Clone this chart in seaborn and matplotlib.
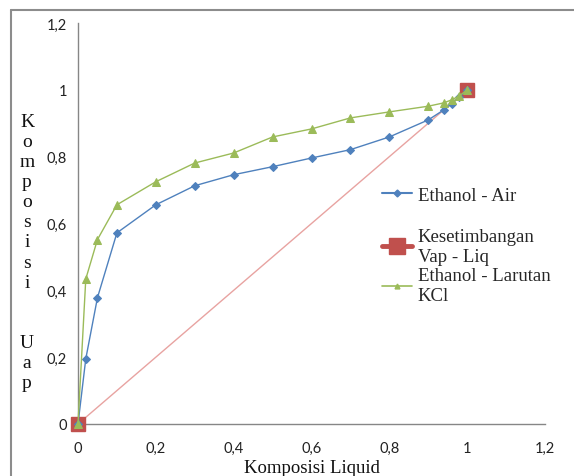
### Komposisi uap vs komposisi liquid ###
import matplotlib
matplotlib.use("Agg")
import matplotlib.pyplot as plt
import seaborn as sns
import numpy as np
import pandas as pd
from matplotlib.lines import Line2D

# data
x_air = [0, 0.02, 0.05, 0.1, 0.2, 0.3, 0.4, 0.5, 0.6, 0.7, 0.8, 0.9, 0.94, 0.96, 0.98, 1.0]
y_air = [0, 0.195, 0.378, 0.572, 0.656, 0.713, 0.746, 0.770, 0.796, 0.821, 0.859, 0.910, 0.940, 0.958, 0.979, 1.0]

x_kcl = [0, 0.02, 0.05, 0.1, 0.2, 0.3, 0.4, 0.5, 0.6, 0.7, 0.8, 0.9, 0.94, 0.96, 0.98, 1.0]
y_kcl = [0, 0.434, 0.552, 0.656, 0.725, 0.781, 0.811, 0.859, 0.883, 0.916, 0.934, 0.951, 0.961, 0.970, 0.982, 1.0]

x_eq = [0, 1]
y_eq = [0, 1]

ticks = [0, 0.2, 0.4, 0.6, 0.8, 1.0, 1.2]
tick_labels = ["0", "0,2", "0,4", "0,6", "0,8", "1", "1,2"]

label_air = "Ethanol - Air"
label_eq = "Kesetimbangan\nVap - Liq"
label_kcl = "Ethanol - Larutan\nKCl"

blue = "#4F81BD"
red = "#C0504D"
green = "#9BBB59"
grey = "#868686"
serif = ["Liberation Serif", "DejaVu Serif"]

sns.set_theme(style="white")
plt.rcParams["font.family"] = ["Lato", "DejaVu Sans"]

fig = plt.figure(figsize=(5.74, 4.77), dpi=100)
ax = fig.add_axes([78 / 574, 1 - 425 / 477, 467 / 574, 401 / 477])

# equilibrium diagonal
sns.lineplot(x=x_eq, y=y_eq, ax=ax, color="#E8A3A1", linewidth=1.0, zorder=2)
ax.plot(x_eq, y_eq, linestyle="none", marker="s", markersize=10,
        color=red, markeredgecolor=red, zorder=3)

sns.lineplot(x=x_air, y=y_air, ax=ax, color=blue, linewidth=1.0, marker="D",
             markersize=4, markeredgecolor=blue, sort=False, zorder=4)
sns.lineplot(x=x_kcl, y=y_kcl, ax=ax, color=green, linewidth=1.0, marker="^",
             markersize=5.5, markeredgecolor=green, sort=False, zorder=5)

ax.set_xlim(0, 1.2)
ax.set_ylim(0, 1.2)
ax.set_xticks(ticks)
ax.set_xticklabels(tick_labels)
ax.set_yticks(ticks)
ax.set_yticklabels(tick_labels)
ax.tick_params(axis="both", direction="out", length=4, width=1, color=grey,
               labelsize=10.5, labelcolor="#222222", pad=4)
ax.tick_params(axis="x", pad=8)
for side in ["top", "right"]:
    ax.spines[side].set_visible(False)
for side in ["left", "bottom"]:
    ax.spines[side].set_color(grey)
    ax.spines[side].set_linewidth(1)
for art in ax.lines:
    art.set_clip_on(False)

ax.set_xlabel("Komposisi Liquid", fontsize=13.5, family=serif, color="#111111", labelpad=3)
ax.set_ylabel("K\no\nm\np\no\ns\ni\ns\ni\n\n\nU\na\np", fontsize=14, family=serif,
              color="#111111", rotation=0, ha="center", va="center", linespacing=1.24)
ax.yaxis.set_label_coords((27 - 78) / 467, (425 - 253) / 401)

# legend, split in two so the gaps look like the original
h_air = Line2D([], [], color=blue, lw=1.5, marker="D", markersize=3.5)
h_eq = Line2D([], [], color=red, lw=3.5, marker="s", markersize=11)
h_kcl = Line2D([], [], color=green, lw=1.2, marker="^", markersize=3.5)

leg_kw = dict(frameon=False, handlelength=1.6, handletextpad=0.3,
              borderaxespad=0, borderpad=0, prop={"family": serif, "size": 13.5})
leg1 = ax.legend([h_air], [label_air], loc="center left",
                 bbox_to_anchor=((382 - 78) / 467, (425 - 196) / 401), **leg_kw)
ax.add_artist(leg1)
leg2 = ax.legend([h_eq, h_kcl], [label_eq, label_kcl], loc="upper left",
                 bbox_to_anchor=((382 - 78) / 467, (425 - 229) / 401),
                 labelspacing=0.15, **leg_kw)

# outer frame of the chart area
fig.add_artist(Line2D([11 / 574, 11 / 574], [0, 1 - 11 / 477], color="#8C8C8C", lw=1.5))
fig.add_artist(Line2D([11 / 574, 1], [1 - 11 / 477, 1 - 11 / 477], color="#8C8C8C", lw=1.5))

fig.savefig("out.png", dpi=100, facecolor="white")
